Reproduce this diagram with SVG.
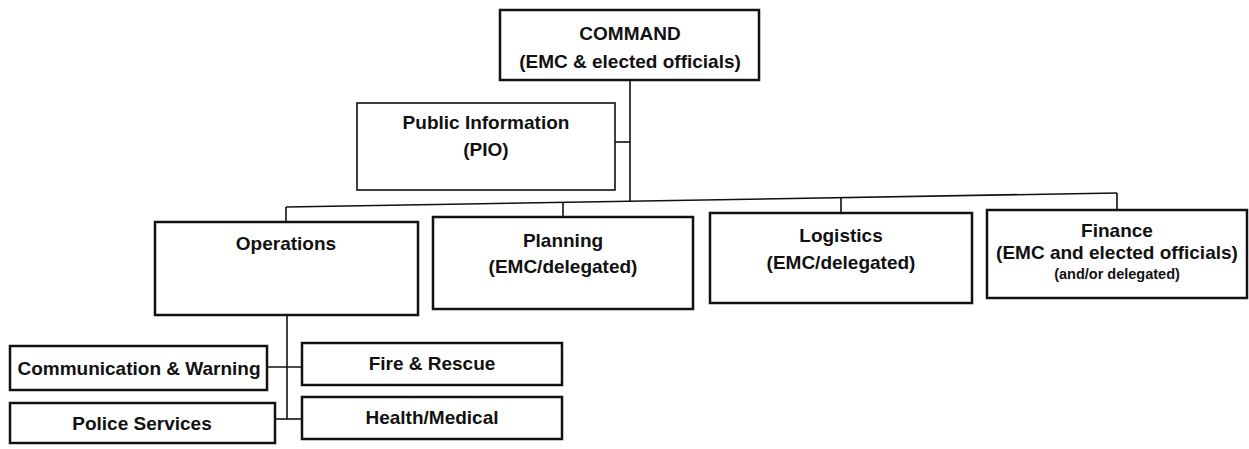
<svg xmlns="http://www.w3.org/2000/svg" width="1249" height="449" viewBox="0 0 1249 449">
<style>
.box{fill:#fff;stroke:#111;stroke-width:2.5}
.t{font-family:"Liberation Sans",Arial,sans-serif;font-weight:bold;font-size:19px;fill:#111;text-anchor:middle}
.s{font-size:14.5px}
.c{fill:none;stroke:#111;stroke-width:1.6}
</style>
<rect width="1249" height="449" fill="#fff"/>
<g id="connectors">
<line class="c" x1="630" y1="80" x2="630" y2="201"/>
<line class="c" x1="615" y1="142" x2="630" y2="142"/>
<line class="c" x1="286" y1="207" x2="1117" y2="193"/>
<line class="c" x1="286" y1="207" x2="286" y2="222"/>
<line class="c" x1="563" y1="202.3" x2="563" y2="217"/>
<line class="c" x1="841" y1="197.6" x2="841" y2="213"/>
<line class="c" x1="1117" y1="193" x2="1117" y2="210"/>
<line class="c" x1="287" y1="315" x2="287" y2="419"/>
<line class="c" x1="267" y1="367" x2="302" y2="367"/>
<line class="c" x1="275" y1="419" x2="302" y2="419"/>
</g>
<g id="command">
<rect class="box" x="500" y="10" width="259" height="70"/>
<text class="t" x="630" y="40">COMMAND</text>
<text class="t" x="630" y="68">(EMC &amp; elected officials)</text>
</g>
<g id="pio">
<rect class="box" x="357" y="103" width="258" height="87" style="stroke-width:1.6"/>
<text class="t" x="486" y="129">Public Information</text>
<text class="t" x="486" y="156">(PIO)</text>
</g>
<g id="operations">
<rect class="box" x="155" y="222" width="263" height="93"/>
<text class="t" x="286" y="250">Operations</text>
</g>
<g id="planning">
<rect class="box" x="433" y="217" width="260" height="92"/>
<text class="t" x="563" y="247">Planning</text>
<text class="t" x="563" y="273">(EMC/delegated)</text>
</g>
<g id="logistics">
<rect class="box" x="710" y="213" width="262" height="90"/>
<text class="t" x="841" y="242">Logistics</text>
<text class="t" x="841" y="269">(EMC/delegated)</text>
</g>
<g id="finance">
<rect class="box" x="987" y="210" width="260" height="88"/>
<text class="t" x="1117" y="237">Finance</text>
<text class="t" x="1117" y="259">(EMC and elected officials)</text>
<text class="t s" x="1117" y="279">(and/or delegated)</text>
</g>
<g id="comm-warning">
<rect class="box" x="10" y="346" width="257" height="44"/>
<text class="t" x="139" y="375">Communication &amp; Warning</text>
</g>
<g id="police">
<rect class="box" x="10" y="403" width="265" height="40"/>
<text class="t" x="142" y="430">Police Services</text>
</g>
<g id="fire-rescue">
<rect class="box" x="302" y="343" width="260" height="42"/>
<text class="t" x="432" y="370">Fire &amp; Rescue</text>
</g>
<g id="health-medical">
<rect class="box" x="302" y="397" width="260" height="42"/>
<text class="t" x="432" y="424">Health/Medical</text>
</g>
</svg>
